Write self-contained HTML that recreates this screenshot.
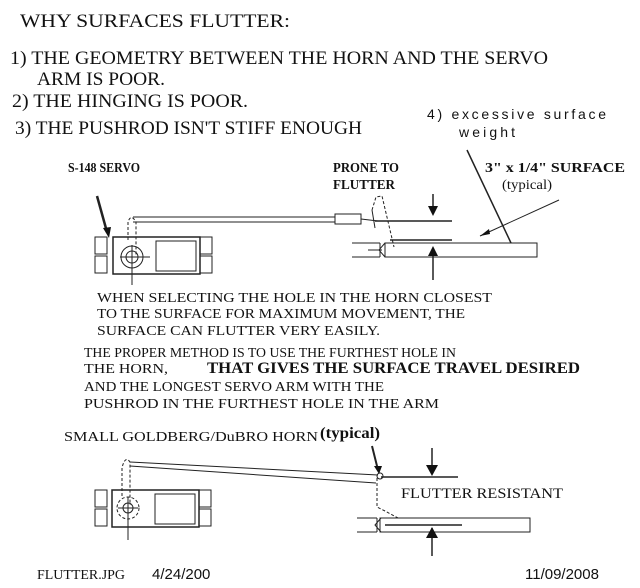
<!DOCTYPE html>
<html><head><style>
html,body{margin:0;padding:0;background:#fff;}
svg{display:block;}
.s{font-family:"Liberation Serif",serif;fill:#111;}
.a{font-family:"Liberation Sans",sans-serif;fill:#111;}
</style></head><body>
<svg width="640" height="588" viewBox="0 0 640 588" xmlns="http://www.w3.org/2000/svg">
<rect width="640" height="588" fill="#fff"/>
<g class="s" font-size="19">
<text x="20" y="27" textLength="270" lengthAdjust="spacingAndGlyphs">WHY SURFACES FLUTTER:</text>
<text x="10" y="64" textLength="538" lengthAdjust="spacingAndGlyphs">1) THE GEOMETRY BETWEEN THE HORN AND THE SERVO</text>
<text x="37" y="85" textLength="128" lengthAdjust="spacingAndGlyphs">ARM IS POOR.</text>
<text x="12" y="107" textLength="236" lengthAdjust="spacingAndGlyphs">2) THE HINGING IS POOR.</text>
<text x="15" y="134" textLength="347" lengthAdjust="spacingAndGlyphs">3) THE PUSHROD ISN'T STIFF ENOUGH</text>
</g>
<g class="a" font-size="14">
<text x="427" y="119" textLength="179" lengthAdjust="spacing">4) excessive surface</text>
<text x="459" y="137" textLength="56" lengthAdjust="spacing">weight</text>
</g>
<g class="s" font-size="14" font-weight="bold">
<text x="68" y="172" textLength="72" lengthAdjust="spacingAndGlyphs">S-148 SERVO</text>
<text x="333" y="172" textLength="66" lengthAdjust="spacingAndGlyphs">PRONE TO</text>
<text x="333" y="189" textLength="62" lengthAdjust="spacingAndGlyphs">FLUTTER</text>
<text x="485" y="172" textLength="140" lengthAdjust="spacingAndGlyphs">3" x 1/4" SURFACE</text>
<text x="502" y="189" textLength="50" lengthAdjust="spacingAndGlyphs" font-weight="normal">(typical)</text>
</g>
<g class="s" font-size="14" fill="#222">
<text x="97" y="302" textLength="395" lengthAdjust="spacingAndGlyphs">WHEN SELECTING THE HOLE IN THE HORN CLOSEST</text>
<text x="97" y="318" textLength="368" lengthAdjust="spacingAndGlyphs">TO THE SURFACE FOR MAXIMUM MOVEMENT, THE</text>
<text x="97" y="335" textLength="283" lengthAdjust="spacingAndGlyphs">SURFACE CAN FLUTTER VERY EASILY.</text>
<text x="84" y="357" textLength="372" lengthAdjust="spacingAndGlyphs">THE PROPER METHOD IS TO USE THE FURTHEST HOLE IN</text>
<text x="84" y="373" textLength="84" lengthAdjust="spacingAndGlyphs">THE HORN,</text>
<text x="84" y="391" textLength="300" lengthAdjust="spacingAndGlyphs">AND  THE LONGEST SERVO ARM WITH THE</text>
<text x="84" y="408" textLength="355" lengthAdjust="spacingAndGlyphs">PUSHROD IN THE FURTHEST HOLE IN THE ARM</text>
</g>
<text class="s" x="207" y="373" font-size="16" font-weight="bold" textLength="373" lengthAdjust="spacingAndGlyphs">THAT GIVES THE SURFACE TRAVEL DESIRED</text>
<text class="s" x="64" y="441" font-size="14" fill="#333" textLength="254" lengthAdjust="spacingAndGlyphs">SMALL GOLDBERG/DuBRO HORN</text>
<text class="s" x="320" y="438" font-size="16" font-weight="bold" textLength="60" lengthAdjust="spacingAndGlyphs">(typical)</text>
<text class="s" x="401" y="498" font-size="15" textLength="162" lengthAdjust="spacingAndGlyphs">FLUTTER RESISTANT</text>
<text class="s" x="37" y="579" font-size="14" textLength="88" lengthAdjust="spacingAndGlyphs">FLUTTER.JPG</text>
<text class="a" x="152" y="579" font-size="15">4/24/200</text>
<text class="a" x="525" y="579" font-size="15">11/09/2008</text>

<g fill="none" stroke="#222" stroke-width="1">
<rect x="95" y="237" width="12" height="17"/><rect x="95" y="256" width="12" height="17"/>
<rect x="200" y="237" width="12" height="17"/><rect x="200" y="256" width="12" height="17"/>
<rect x="113" y="237" width="87" height="37" stroke-width="1.5"/>
<rect x="156" y="241" width="40" height="30"/>
<circle cx="132" cy="257" r="11"/><circle cx="132" cy="257" r="6"/>
<line x1="120" y1="257" x2="150" y2="257"/><line x1="132" y1="245" x2="132" y2="285"/>
<path d="M128 240 V222 Q131 213 136 222 V255" stroke-dasharray="3,2"/>
<line x1="133" y1="217" x2="335" y2="217"/><line x1="133" y1="222" x2="335" y2="222"/>
<rect x="335" y="214" width="26" height="10"/>
<line x1="361" y1="219" x2="378" y2="221"/>
<path d="M372 210 L376 197 L382 196 L394 247" stroke-dasharray="3,2"/>
<line x1="372" y1="210" x2="375" y2="228"/>
<rect x="385" y="243" width="152" height="14"/>
<line x1="352" y1="243" x2="380" y2="243"/><line x1="352" y1="257" x2="380" y2="257"/>
<line x1="380" y1="243" x2="380" y2="257"/><path d="M385 243 L379 250 L385 257"/>
<line x1="368" y1="250" x2="382" y2="250"/>
<line x1="375" y1="221" x2="452" y2="221" stroke-width="1.5"/>
<line x1="390" y1="240" x2="452" y2="240" stroke-width="1.5"/>
<line x1="433" y1="194" x2="433" y2="214" stroke-width="1.5"/>
<line x1="433" y1="248" x2="433" y2="280" stroke-width="1.5"/>
<line x1="467" y1="150" x2="511" y2="243" stroke-width="1.5"/>
<line x1="559" y1="200" x2="480" y2="236"/>
<line x1="97" y1="196" x2="107" y2="232" stroke-width="2.5"/>
<rect x="95" y="490" width="12" height="17"/><rect x="95" y="509" width="12" height="17"/>
<rect x="199" y="490" width="12" height="17"/><rect x="199" y="509" width="12" height="17"/>
<rect x="112" y="490" width="87" height="37" stroke-width="1.5"/>
<rect x="155" y="494" width="40" height="30"/>
<circle cx="128" cy="508" r="11" stroke-dasharray="3,2"/><circle cx="128" cy="508" r="5"/>
<line x1="118" y1="508" x2="138" y2="508"/><line x1="128" y1="497" x2="128" y2="540"/>
<path d="M122 496 V468 Q125 455 130 462 V505" stroke-dasharray="3,2"/>
<line x1="130" y1="462" x2="378" y2="475"/><line x1="130" y1="466" x2="376" y2="483"/>
<path d="M377 478 L377 507 L385 511 L398 518" stroke-dasharray="3,2"/>
<circle cx="380" cy="476" r="3"/>
<line x1="381" y1="477" x2="458" y2="477" stroke-width="1.5"/>
<rect x="380" y="518" width="150" height="14"/>
<line x1="357" y1="518" x2="377" y2="518"/><line x1="357" y1="532" x2="377" y2="532"/>
<line x1="377" y1="518" x2="377" y2="532"/><path d="M381 518 L375 525 L381 532"/>
<line x1="385" y1="525" x2="462" y2="525" stroke-width="1.5"/>
<line x1="432" y1="448" x2="432" y2="474" stroke-width="1.5"/>
<line x1="432" y1="528" x2="432" y2="556" stroke-width="1.5"/>
<line x1="372" y1="446" x2="378" y2="470" stroke-width="2"/>
</g>
<g fill="#111">
<path d="M428 206 L438 206 L433 216 Z"/><path d="M428 256 L438 256 L433 246 Z"/>
<path d="M426 465 L438 465 L432 476 Z"/><path d="M426 538 L438 538 L432 527 Z"/>
<path d="M103 228 L111 227 L109 238 Z"/><path d="M374 466 L382 466 L379 474 Z"/>
<path d="M480 236 L489 229 L490 234 Z"/>
</g>
</svg>
</body></html>
